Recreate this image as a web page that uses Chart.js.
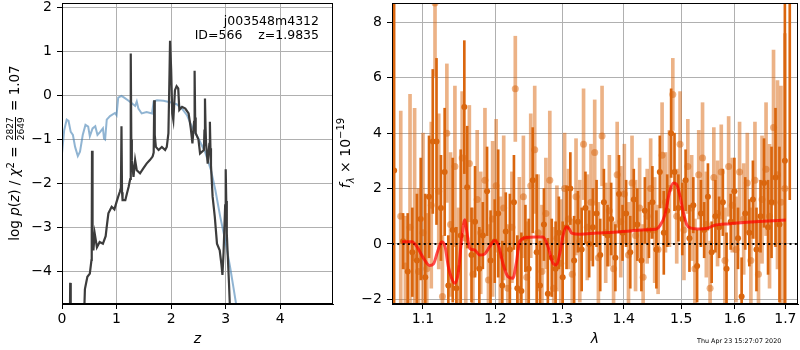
<!DOCTYPE html>
<html>
<head>
<meta charset="utf-8">
<script src="https://cdn.jsdelivr.net/npm/chart.js@4.4.1/dist/chart.umd.min.js"></script>
<style>
  body { margin: 0; background: #fff; }
  #wrap { position: relative; width: 800px; height: 350px; overflow: hidden; font-family: 'DejaVu Sans', sans-serif; color: #000; }
  canvas { position: absolute; top: 0; }
  #pz { left: 0; }
  #spec { left: 340px; }
  .lab { position: absolute; white-space: pre; font-size: 14px; font-weight: normal; }
  .rot { height: 20px; line-height: 20px; text-align: center; transform: rotate(-90deg); }
  .frac { display: inline-flex; flex-direction: column; vertical-align: middle; font-size: 9px; line-height: 8px; text-align: center; margin: 0 2px; }
  .frac span:first-child { border-bottom: 1px solid #000; padding-bottom: 1px; }
  .frac span:last-child { padding-top: 1px; }
  sup, sub { font-size: 10px; line-height: 0; }
</style>
</head>
<body>
<div id="wrap">
  <canvas id="pz" width="340" height="350"></canvas>
  <canvas id="spec" width="460" height="350"></canvas>
  <div class="lab rot" style="left:-76px; top:143px; width:180px; font-size:13.5px;">log <i>p</i>(<i>z</i>) / <i>χ</i><sup>2</sup> = <span class="frac"><span>2827</span><span>2649</span></span> = 1.07</div>
  <div class="lab rot" style="left:305px; top:143px; width:80px;"><i>f</i><sub><i>λ</i></sub> × 10<sup>−19</sup></div>
  <div class="lab" style="right:481px; top:14px; line-height:14px; font-size:12.5px; text-align:right;">j003548m4312
ID=566    z=1.9835</div>
  <div class="lab" style="left:697px; top:337px; font-size:6.4px;">Thu Apr 23 15:27:07 2020</div>
</div>

<script>
// redshift probability panel
const zTicks = [0, 1, 2, 3, 4];
const pTicks = [-4, -3, -2, -1, 0, 1, 2];

const zBlue = [0, 0.04, 0.086, 0.12, 0.16, 0.2, 0.24, 0.29, 0.33, 0.38, 0.43, 0.48, 0.51, 0.56, 0.61, 0.65, 0.7, 0.75, 0.77, 0.79,
  0.82, 0.88, 0.97, 1.0, 1.03, 1.09, 1.14, 1.22, 1.28, 1.34, 1.37, 1.4, 1.46, 1.55, 1.65, 1.68, 1.74, 1.86, 2.0, 2.1,
  2.2, 2.29, 2.38, 2.5, 2.62, 2.73, 2.81, 2.9, 2.99, 3.08, 3.14, 3.19, 3.25];
const pBlue = [-1.32, -0.79, -0.55, -0.58, -0.83, -0.9, -1.17, -1.38, -1.28, -0.9, -0.67, -0.71, -0.93, -0.75, -0.7, -0.9, -0.83, -0.75, -0.98, -1.0,
  -0.55, -0.47, -0.4, -0.45, -0.05, -0.01, -0.05, -0.12, -0.18, -0.24, -0.14, -0.3, -0.41, -0.38, -0.41, -0.14, -0.11, -0.12, -0.16, -0.2,
  -0.3, -0.45, -0.71, -0.98, -1.28, -1.7, -2.15, -2.76, -3.29, -3.9, -4.35, -4.74, -5.3];

const zDark = [0, 0.14, 0.15, 0.16, 0.38, 0.42, 0.465, 0.51, 0.54, 0.545,
  0.55, 0.56, 0.575, 0.6, 0.64, 0.69, 0.75, 0.8, 0.82, 0.85,
  0.91, 0.96, 1.0, 1.03, 1.06, 1.08, 1.09, 1.1, 1.11, 1.16,
  1.19, 1.22, 1.25, 1.26, 1.27, 1.28, 1.31, 1.34, 1.37, 1.43,
  1.49, 1.55, 1.61, 1.66, 1.68, 1.69, 1.7, 1.72, 1.77, 1.83,
  1.89, 1.92, 1.95, 1.97, 1.98, 2.0, 2.02, 2.04, 2.07, 2.1,
  2.13, 2.15, 2.2, 2.26, 2.32, 2.36, 2.39, 2.42, 2.43, 2.44,
  2.45, 2.5, 2.53, 2.6, 2.61, 2.62, 2.63, 2.64, 2.67, 2.7,
  2.71, 2.72, 2.73, 2.76, 2.8, 2.84, 2.89, 2.92, 2.94, 2.96,
  2.99, 3.0, 3.01, 3.02, 3.06, 3.08, 3.15];
const pDark = [-6, -6, -4.26, -6, -6, -4.4, -4.12, -4.05, -3.74, -3.2,
  -1.26, -3.1, -3.52, -3.14, -3.45, -3.33, -3.37, -3.2, -2.98, -2.68,
  -2.53, -2.59, -2.42, -2.3, -2.19, -2.1, -0.7, -2.2, -2.38, -2.38,
  -2.23, -2.08, -1.9, 0.95, -1.0, -1.47, -1.85, -1.47, -1.7, -1.77,
  -1.66, -1.55, -1.47, -1.39, -1.3, -0.11, -0.9, -1.17, -1.24, -1.17,
  -1.24, -1.17, -0.86, 0.5, 1.24, 0.6, -0.41, -0.56, 0.12, 0.21,
  0.16, -0.33, -0.26, -0.3, -0.41, -0.75, -1.09, -0.6, 0.56, -0.5,
  -0.86, -1.0, -1.32, -1.24, -0.8, -0.07, -0.7, -1.09, -1.55, -1.1,
  -0.6, -1.2, -1.59, -2.3, -2.76, -3.37, -3.52, -3.83, -4.08, -3.58,
  -2.5, -1.68, -2.4, -3.14, -4.27, -4.9, -6];

// spectrum panel
const lamMin = 1.0598;
const lamMax = 1.726;
const lamTicks = [1.1, 1.2, 1.3, 1.4, 1.5, 1.6, 1.7];
const fTicks = [-2, 0, 2, 4, 6, 8];

const lamA = [1.0625, 1.074, 1.080, 1.086, 1.092, 1.097, 1.103, 1.108, 1.113, 1.118,
  1.124, 1.129, 1.134, 1.140, 1.145, 1.151, 1.156, 1.160, 1.166, 1.171,
  1.177, 1.182, 1.188, 1.193, 1.199, 1.204, 1.210, 1.215, 1.221, 1.227,
  1.232, 1.238, 1.244, 1.249, 1.255, 1.261, 1.266, 1.272, 1.278, 1.284,
  1.290, 1.295, 1.301, 1.307, 1.313, 1.319, 1.325, 1.331, 1.337, 1.343,
  1.349, 1.355, 1.361, 1.367, 1.373, 1.379, 1.386, 1.392, 1.398, 1.404,
  1.411, 1.417, 1.423, 1.430, 1.436, 1.443, 1.449, 1.456, 1.462, 1.469,
  1.475, 1.482, 1.488, 1.495, 1.502, 1.508, 1.515, 1.522, 1.529, 1.536,
  1.542, 1.549, 1.556, 1.563, 1.570, 1.577, 1.584, 1.592, 1.599, 1.606,
  1.613, 1.620, 1.628, 1.635, 1.642, 1.650, 1.657, 1.665, 1.672, 1.680,
  1.688, 1.699, 1.709];
const fluxA = [2.65, 0.1, -1.0, -0.3, -0.6, 0.9, -1.2, 1.7, 3.7, 3.7,
  1.3, 2.6, -1.5, 0.5, -1.6, 0.3, 4.94, 2.05, -0.4, 0.8,
  -0.9, 0.3, 1.9, -0.6, 0.1, 1.1, -1.5, 0.45, -0.2, 1.5,
  -1.6, -1.7, 0.2, -0.9, 2.3, -0.3, -1.5, 0.7, -1.8, -0.5,
  -0.9, 0.4, -1.2, 0.6, 2.0, -0.6, 0.8, -0.2, 1.3, 0.0,
  0.6, 1.1, -0.4, 1.5, 0.3, 0.9, -0.5, 1.8, 0.4, 1.1,
  -0.3, 1.6, 0.7, -0.6, 1.2, 0.5, 1.5, -0.2, 2.6, 0.4,
  1.2, 4.0, 2.6, 1.3, 0.9, 2.3, 0.2, 1.4, -0.8, 1.1,
  0.5, 1.7, -0.3, 1.0, 0.6, 1.5, -0.9, 0.8, 1.9, 0.2,
  -1.9, 1.1, 0.4, 1.6, -0.2, 1.0, 2.2, 0.6, 1.5, 2.4,
  0.7, 3.0, 10.0];
const errA = [9.0, 1.0, 2.1, 1.6, 2.4, 2.2, 3.0, 2.2, 2.6, 3.0,
  1.9, 2.3, 1.8, 2.6, 2.2, 3.1, 2.4, 2.2, 1.7, 2.0,
  1.5, 1.2, 1.6, 1.8, 1.5, 2.3, 1.6, 1.4, 2.0, 1.7,
  1.9, 2.1, 1.2, 1.8, 1.9, 2.8, 1.6, 1.3, 2.0, 1.4,
  1.7, 1.3, 2.0, 1.5, 1.3, 1.6, 1.1, 1.5, 1.3, 1.2,
  1.4, 1.2, 1.3, 1.2, 1.1, 1.3, 1.2, 1.4, 1.0, 1.2,
  1.3, 1.1, 1.3, 1.1, 1.2, 1.0, 1.3, 1.4, 1.3, 1.5,
  1.3, 1.6, 1.4, 1.2, 1.3, 1.1, 1.2, 1.0, 1.3, 1.2,
  1.0, 1.2, 1.1, 1.3, 1.1, 1.2, 1.3, 1.0, 1.2, 1.1,
  1.4, 1.3, 1.2, 1.4, 1.5, 1.3, 1.6, 1.7, 2.0, 2.5,
  2.8, 9.0, 8.4];

const lamB = [1.071, 1.077, 1.083, 1.089, 1.094, 1.100, 1.105, 1.111, 1.116, 1.121,
  1.126, 1.132, 1.137, 1.143, 1.148, 1.153, 1.158, 1.163, 1.168, 1.174,
  1.179, 1.185, 1.190, 1.196, 1.201, 1.207, 1.212, 1.218, 1.224, 1.229,
  1.235, 1.241, 1.246, 1.252, 1.258, 1.263, 1.269, 1.275, 1.281, 1.287,
  1.292, 1.298, 1.304, 1.310, 1.316, 1.322, 1.328, 1.334, 1.340, 1.346,
  1.352, 1.358, 1.364, 1.370, 1.376, 1.383, 1.389, 1.395, 1.401, 1.408,
  1.414, 1.420, 1.427, 1.433, 1.440, 1.446, 1.453, 1.459, 1.466, 1.472,
  1.479, 1.485, 1.492, 1.498, 1.505, 1.512, 1.519, 1.525, 1.532, 1.539,
  1.546, 1.553, 1.560, 1.567, 1.574, 1.581, 1.588, 1.595, 1.602, 1.609,
  1.617, 1.624, 1.631, 1.639, 1.646, 1.653, 1.661, 1.668, 1.676, 1.684,
  1.691, 1.699];
const fluxB = [1.0, -0.8, 0.6, -0.5, -1.0, 0.4, -0.9, 1.4, 8.7, 1.9,
  -1.9, 4.0, 0.7, 2.8, -0.9, 3.1, 0.2, 2.9, -1.1, 1.6,
  0.4, 2.3, -1.3, 0.9, 2.1, -0.4, 1.3, -1.6, 0.6, 5.6,
  -0.1, 1.7, -1.2, 2.1, 3.4, 0.4, -1.0, 1.1, 2.3, -1.6,
  0.2, -0.7, 2.0, 0.9, -1.1, 1.7, 0.1, 3.6, 0.6, 1.5,
  3.3, -0.5, 3.9, 0.4, 1.2, -0.9, 2.5, 0.8, 1.8, -0.4,
  2.2, 0.3, 1.3, -1.2, 1.0, 2.0, 0.5, -0.2, 3.2, 1.5,
  2.0, 5.4, 1.0, 3.6, 0.5, 2.8, 1.3, -0.9, 2.5, 3.1,
  0.7, -1.6, 2.4, 1.1, 2.6, -0.6, 2.8, 1.4, -0.2, 2.6,
  0.9, 2.2, -0.6, 2.3, -1.1, 1.6, 2.7, 1.0, 4.2, 2.5,
  1.5, 2.0];
const errB = [3.8, 1.8, 4.8, 5.4, 3.0, 3.6, 2.0, 3.0, 2.65, 2.8,
  2.2, 2.5, 2.6, 2.9, 2.2, 2.4, 3.0, 2.1, 2.4, 2.5,
  2.2, 2.6, 2.0, 2.8, 2.4, 2.1, 2.6, 2.3, 2.0, 1.9,
  2.5, 2.2, 2.0, 2.6, 2.3, 2.1, 2.4, 2.0, 2.5, 2.2,
  1.9, 2.3, 2.0, 1.8, 2.0, 2.1, 2.2, 2.0, 1.9, 2.1,
  1.9, 2.0, 1.8, 1.8, 2.0, 1.7, 1.9, 2.0, 1.8, 1.9,
  1.7, 2.0, 1.8, 1.9, 1.7, 1.8, 1.9, 1.6, 1.9, 1.8,
  2.1, 1.3, 1.7, 1.9, 1.8, 1.7, 1.9, 1.8, 1.6, 2.0,
  1.9, 1.7, 1.8, 1.9, 1.7, 1.9, 1.8, 1.7, 1.9, 1.8,
  2.0, 1.8, 1.9, 2.1, 2.0, 2.3, 2.4, 2.6, 2.8, 3.4,
  4.2, 5.6];

const lamModel = [1.0726, 1.0856, 1.092, 1.1008, 1.1088, 1.114, 1.1194, 1.1251, 1.1296, 1.134,
  1.1385, 1.143, 1.1475, 1.1521, 1.1567, 1.1598, 1.1635, 1.1705, 1.1775, 1.1846,
  1.1917, 1.1988, 1.205, 1.2108, 1.2181, 1.2254, 1.2304, 1.2353, 1.2453, 1.2579,
  1.2706, 1.2783, 1.2861, 1.2913, 1.2965, 1.3018, 1.3071, 1.3113, 1.3151, 1.3285,
  1.3555, 1.3829, 1.4108, 1.4392, 1.4553, 1.4623, 1.4711, 1.4788, 1.4859, 1.492,
  1.498, 1.504, 1.5101, 1.5162, 1.5346, 1.5501, 1.5594, 1.5909, 1.6229, 1.6555,
  1.7008];
const fluxModel = [0.08, 0.08, -0.1, -0.52, -0.78, -0.72, -0.28, 0.08, -0.1, -0.82,
  -1.24, -1.42, -1.06, 0.14, 0.87, 0.39, -0.16, -0.22, -0.4, -0.36,
  -0.1, 0.12, -0.1, -0.7, -1.18, -1.24, -0.7, 0.08, 0.23, 0.25,
  0.25, -0.1, -0.7, -0.76, -0.34, 0.33, 0.62, 0.54, 0.39, 0.35,
  0.39, 0.42, 0.47, 0.51, 0.53, 0.66, 1.06, 1.84, 2.2, 2.14,
  1.72, 1.12, 0.7, 0.58, 0.54, 0.58, 0.66, 0.73, 0.78, 0.82,
  0.86];

const orange = 'rgb(218, 102, 14)';
const orangeLight = 'rgba(218, 102, 14, 0.5)';

Chart.defaults.font.family = "'DejaVu Sans', sans-serif";
Chart.defaults.font.size = 14;
Chart.defaults.color = '#000';

const fmt = v => (v < 0 ? '\u2212' + Math.abs(v) : String(v));
const xy = (xs, ys) => xs.map((x, i) => ({ x: x, y: ys[i] }));
const errBars = (xs, ys, es) => xs.map((x, i) => ({ x: x, y: [ys[i] - es[i], ys[i] + es[i]] }));

const grid = { color: '#b0b0b0', lineWidth: 1, tickColor: '#000', tickLength: 5, offset: false };
const border = { color: '#000', width: 1 };

// fixed axis boxes, no extra room for overhanging tick labels
const fixX = s => { s.height = 46; s.paddingLeft = 0; s.paddingRight = 0; };
const fixY = w => s => { s.width = w; s.paddingTop = 0; s.paddingBottom = 0; };

// black box round the plot area
const frame = {
    id: 'frame',
    afterDatasetsDraw(chart) {
        const a = chart.chartArea;
        const ctx = chart.ctx;
        ctx.save();
        ctx.strokeStyle = '#000';
        ctx.lineWidth = 1;
        ctx.strokeRect(Math.round(a.left) + 0.5, Math.round(a.top) + 0.5,
            Math.round(a.right - a.left) - 1, Math.round(a.bottom - a.top) - 1);
        ctx.restore();
    }
};

new Chart(document.getElementById('pz'), {
    type: 'line',
    data: {
        datasets: [
            { data: xy(zDark, pDark), borderColor: '#3c3c3c', borderWidth: 2.2, pointRadius: 0, tension: 0, order: 0 },
            { data: xy(zBlue, pBlue), borderColor: 'rgba(70, 130, 180, 0.6)', borderWidth: 2, pointRadius: 0, tension: 0, order: 1 }
        ]
    },
    options: {
        responsive: false,
        animation: false,
        events: [],
        layout: { autoPadding: false, padding: { left: 0, right: 7, top: 3, bottom: 0 } },
        plugins: { legend: { display: false }, tooltip: { enabled: false } },
        scales: {
            x: {
                type: 'linear', min: 0, max: 4.966,
                afterBuildTicks: s => { s.ticks = zTicks.map(v => ({ value: v })); },
                afterFit: fixX,
                grid: grid, border: border,
                ticks: { padding: 2, maxRotation: 0, autoSkip: false, callback: fmt },
                title: { display: true, text: 'z', font: { style: 'italic', size: 14 }, padding: { top: 0, bottom: 2 } }
            },
            y: {
                type: 'linear', min: -4.74, max: 2.1,
                afterBuildTicks: s => { s.ticks = pTicks.map(v => ({ value: v })); },
                afterFit: fixY(62),
                grid: grid, border: border,
                ticks: { padding: 5, autoSkip: false, callback: fmt }
            }
        }
    },
    plugins: [frame]
});

new Chart(document.getElementById('spec'), {
    type: 'scatter',
    data: {
        datasets: [
            { type: 'line', data: xy(lamModel, fluxModel), borderColor: 'rgba(255, 0, 0, 0.7)', borderWidth: 3,
              pointRadius: 0, cubicInterpolationMode: 'monotone', order: 0, clip: 0 },
            { type: 'line', data: [{ x: lamMin, y: 0 }, { x: lamMax, y: 0 }], borderColor: '#000', borderWidth: 2,
              borderDash: [2, 3.3], pointRadius: 0, order: 1, clip: 0 },
            { data: xy(lamA, fluxA), pointBackgroundColor: orange, pointBorderWidth: 0, pointRadius: 3, order: 2, clip: 0 },
            { type: 'bar', data: errBars(lamA, fluxA, errA), backgroundColor: orange, barThickness: 2, stack: 'err', order: 3, clip: 0 },
            { data: xy(lamB, fluxB), pointBackgroundColor: orangeLight, pointBorderWidth: 0, pointRadius: 3.5, order: 4, clip: 0 },
            { type: 'bar', data: errBars(lamB, fluxB, errB), backgroundColor: orangeLight, barThickness: 3, stack: 'err', order: 5, clip: 0 }
        ]
    },
    options: {
        responsive: false,
        animation: false,
        events: [],
        layout: { autoPadding: false, padding: { left: 0, right: 2, top: 3, bottom: 0 } },
        plugins: { legend: { display: false }, tooltip: { enabled: false } },
        scales: {
            x: {
                type: 'logarithmic', min: lamMin, max: lamMax, offset: false,
                afterBuildTicks: s => { s.ticks = lamTicks.map(v => ({ value: v })); },
                afterFit: fixX,
                grid: grid, border: border,
                ticks: { padding: 2, maxRotation: 0, autoSkip: false, callback: v => Number(v).toFixed(1) },
                title: { display: true, text: 'λ', font: { style: 'italic', size: 14 }, padding: { top: 0, bottom: 2 } }
            },
            y: {
                type: 'linear', min: -2.17, max: 8.7, stacked: false,
                afterBuildTicks: s => { s.ticks = fTicks.map(v => ({ value: v })); },
                afterFit: fixY(52),
                grid: grid, border: border,
                ticks: { padding: 5, autoSkip: false, callback: fmt }
            }
        }
    },
    plugins: [frame]
});
</script>
</body>
</html>
